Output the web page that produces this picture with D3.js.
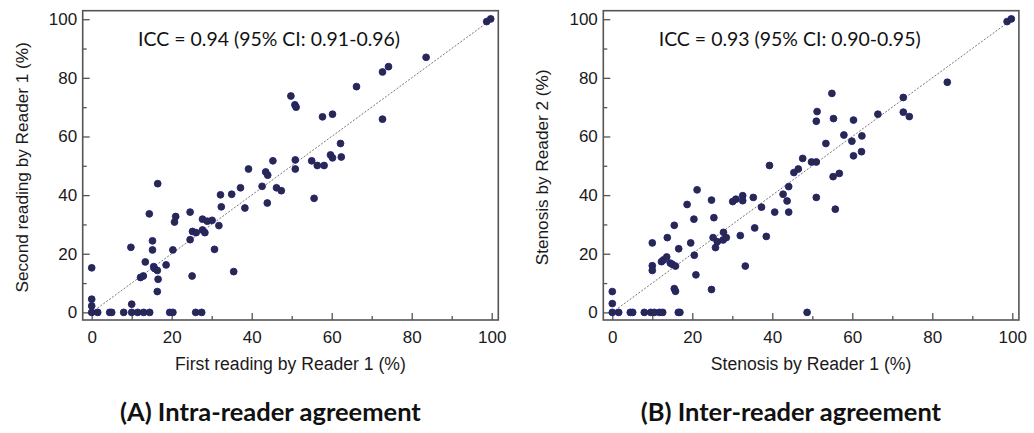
<!DOCTYPE html>
<html>
<head>
<meta charset="utf-8">
<script src="https://cdn.jsdelivr.net/npm/d3@7"></script>
<style>
  html, body { margin: 0; padding: 0; background: #fff; }
  svg { display: block; }
</style>
</head>
<body>
<svg id="chart" width="1034" height="433"></svg>
<script>
// ---------- DATA ----------
const majorTicks = [0, 20, 40, 60, 80, 100];
const minorTicks = [10, 30, 50, 70, 90];

// Panel A: intra-reader (first reading vs second reading by Reader 1)
const intraX = [0, 1.5, 4.5, 5, 8, 10, 11.5, 13, 14.5, 19.5, 20.3, 26, 27.5,
  0, 0, 0, 10, 9.8, 12.2, 12.9, 13.4, 14.4, 15.2, 15.2, 15.5, 15.7, 16.4, 16.6, 16.4, 16.5,
  18.6, 20.3, 20.7, 21.0, 24.6, 24.6, 25.1, 25.2, 26.1, 27.7, 28.3, 27.7, 28.9, 30.1, 31.8,
  30.7, 32.2, 32.4, 35.0, 35.5, 37.2, 38.3, 39.2, 42.6, 43.5, 44.0, 43.9, 45.3, 46.2, 47.4,
  50.9, 50.9, 49.8, 50.8, 51.1, 55.0, 56.4, 58.1, 55.6, 57.7, 60.2, 59.7, 60.2, 62.4, 62.2,
  66.2, 72.7, 72.7, 74.2, 83.6, 98.75, 99.75];
const intraY = [0, 0, 0, 0, 0, 0, 0, 0, 0, 0, 0, 0, 0,
  2.2, 4.5, 15.2, 2.8, 22.2, 11.9, 12.4, 17.2, 33.6, 24.4, 21.3, 15.6, 15.0, 14.3, 11.3, 7.1, 43.9,
  16.2, 21.3, 30.8, 32.7, 34.2, 24.8, 12.4, 27.6, 27.2, 28.1, 27.2, 31.8, 31.1, 31.4, 29.6,
  21.5, 40.1, 36.0, 40.3, 13.9, 42.5, 35.6, 48.9, 43.0, 47.9, 46.8, 37.3, 51.7, 42.5, 41.5,
  52.0, 48.9, 73.8, 70.8, 70.0, 51.7, 50.1, 50.1, 38.9, 66.7, 67.6, 53.7, 52.7, 53.0, 57.6,
  77.0, 65.9, 82.0, 83.8, 87.0, 99.2, 100.1];

// Panel B: inter-reader (Reader 1 vs Reader 2)
const interX = [0, 1.6, 4.5, 5.1, 8, 9.6, 10.5, 11.8, 12.6, 16.5, 16.9, 48.7,
  0, 0, 10, 10, 10, 12.3, 12.8, 13.6, 13.75, 14.5, 15.0, 15.8, 15.5, 15.8, 15.5, 16.6,
  18.7, 19.6, 20.4, 20.5, 20.9, 21.2, 24.8, 24.8, 25.2, 25.4, 25.8, 26.25, 27.7, 27.8, 28.5,
  30.1, 30.9, 32.0, 32.6, 32.6, 33.25, 35.25, 35.6, 37.3, 38.5, 39.3, 40.6, 42.7, 43.7, 44.1,
  44.1, 45.4, 46.5, 47.6, 49.8, 51.0, 51.0, 51.2, 51.0, 53.4, 54.9, 55.3, 55.2, 56.75, 55.75,
  57.9, 59.9, 60.3, 60.3, 62.4, 62.3, 66.4, 72.75, 72.75, 74.25, 83.75, 98.7, 99.75];
const interY = [0, 0, 0, 0, 0, 0, 0, 0, 0, 0, 0, 0,
  3.0, 7.1, 15.9, 14.3, 23.7, 17.3, 17.9, 18.9, 25.5, 16.8, 16.4, 15.8, 8.1, 7.2, 29.7, 21.7,
  36.8, 23.7, 31.8, 19.5, 12.8, 41.8, 38.3, 7.8, 25.5, 32.3, 22.1, 24.1, 24.7, 27.3, 25.5,
  37.8, 38.6, 26.2, 39.8, 38.1, 15.8, 39.2, 28.8, 35.9, 25.9, 50.1, 34.2, 40.3, 38.0, 42.9,
  34.2, 47.7, 48.9, 52.5, 51.3, 51.3, 39.2, 68.5, 65.2, 57.6, 74.7, 66.1, 46.3, 47.4, 35.2,
  60.5, 58.4, 65.6, 53.4, 60.2, 54.8, 67.6, 73.3, 68.3, 66.8, 78.5, 99.2, 100.1];

const panels = [
  { left: 82.7, xs: intraX, ys: intraY,
    xTitle: "First reading by Reader 1 (%)",
    yTitle: "Second reading by Reader 1 (%)",
    icc: "ICC = 0.94 (95% CI: 0.91-0.96)",
    caption: "(A) Intra-reader agreement", captionX: 120 },
  { left: 603.3, xs: interX, ys: interY,
    xTitle: "Stenosis by Reader 1 (%)",
    yTitle: "Stenosis by Reader 2 (%)",
    icc: "ICC = 0.93 (95% CI: 0.90-0.95)",
    caption: "(B) Inter-reader agreement", captionX: 640.7 }
];

// ---------- DRAW ----------
const svg = d3.select("#chart");
const plotW = 415.6, plotTop = 10.7, plotBottom = 320;
const axisFont = "'Liberation Sans', Arial, sans-serif";
const calFont = "Lato, 'Open Sans', sans-serif";
let capSize = 20;

panels.forEach((p, i) => {
  const x = d3.scaleLinear().domain([-2.25, 101.65]).range([p.left, p.left + plotW]);
  const y = d3.scaleLinear().domain([-2.6, 102.9]).range([plotBottom, plotTop]);
  const g = svg.append("g");

  // minor ticks
  g.append("g").attr("transform", `translate(0,${plotBottom})`)
    .call(d3.axisBottom(x).tickValues(minorTicks).tickSizeInner(-4).tickSizeOuter(0).tickFormat(""))
    .call(a => a.select(".domain").remove());
  g.append("g").attr("transform", `translate(${p.left},0)`)
    .call(d3.axisLeft(y).tickValues(minorTicks).tickSizeInner(-4).tickSizeOuter(0).tickFormat(""))
    .call(a => a.select(".domain").remove());
  // major ticks
  const xa = g.append("g").attr("transform", `translate(0,${plotBottom})`)
    .call(d3.axisBottom(x).tickValues(majorTicks).tickSizeInner(-7).tickSizeOuter(0).tickPadding(10.5).tickFormat(d3.format("d")));
  xa.select(".domain").remove();
  const ya = g.append("g").attr("transform", `translate(${p.left},0)`)
    .call(d3.axisLeft(y).tickValues(majorTicks).tickSizeInner(-7).tickSizeOuter(0).tickPadding(5.5).tickFormat(d3.format("d")));
  ya.select(".domain").remove();
  g.selectAll(".tick line").attr("stroke", "#555").attr("stroke-width", 1.3);
  g.selectAll(".tick text").attr("font-family", axisFont).attr("font-size", 17).attr("fill", "#1a1a1a");

  // frame
  g.append("rect").attr("x", p.left).attr("y", plotTop)
    .attr("width", plotW).attr("height", plotBottom - plotTop)
    .attr("fill", "none").attr("stroke", "#555").attr("stroke-width", 1.6);

  // identity line
  g.append("line")
    .attr("x1", x(0)).attr("y1", y(0)).attr("x2", x(100)).attr("y2", y(100))
    .attr("stroke", "#777").attr("stroke-width", 1).attr("stroke-dasharray", "2,1.6");

  // points
  g.append("g").selectAll("circle").data(p.xs.map((v, k) => [v, p.ys[k]]))
    .join("circle")
    .attr("cx", d => x(d[0])).attr("cy", d => y(d[1])).attr("r", 3.4)
    .attr("fill", "#2a2a44").attr("stroke", "#1e1e8a").attr("stroke-width", 0.9);

  // ICC annotation
  const icc = g.append("text").attr("x", p.left + 55.4).attr("y", 45.7)
    .attr("font-family", calFont).attr("font-size", 20).attr("fill", "#111").text(p.icc);
  const w = icc.node().getComputedTextLength();
  if (w > 0) icc.attr("font-size", 20 * 262 / w);

  // axis titles
  g.append("text").attr("x", p.left + plotW / 2).attr("y", 369.5)
    .attr("text-anchor", "middle").attr("font-family", axisFont).attr("font-size", 17.6)
    .attr("fill", "#1a1a1a").text(p.xTitle);
  g.append("text")
    .attr("transform", `translate(${p.left - 55.2},${(plotTop + plotBottom) / 2 + 2}) rotate(-90)`)
    .attr("text-anchor", "middle").attr("font-family", axisFont).attr("font-size", 17.2)
    .attr("fill", "#1a1a1a").text(p.yTitle);

  // caption
  const cap = g.append("text").attr("x", p.captionX).attr("y", 420.7)
    .attr("font-family", calFont).attr("font-weight", "bold").attr("font-size", 20)
    .attr("fill", "#111").text(p.caption);
  if (i === 0) {
    const cw = cap.node().getComputedTextLength();
    if (cw > 0) capSize = 20 * 301 / cw;
  }
  cap.attr("font-size", capSize);
});
</script>
</body>
</html>
